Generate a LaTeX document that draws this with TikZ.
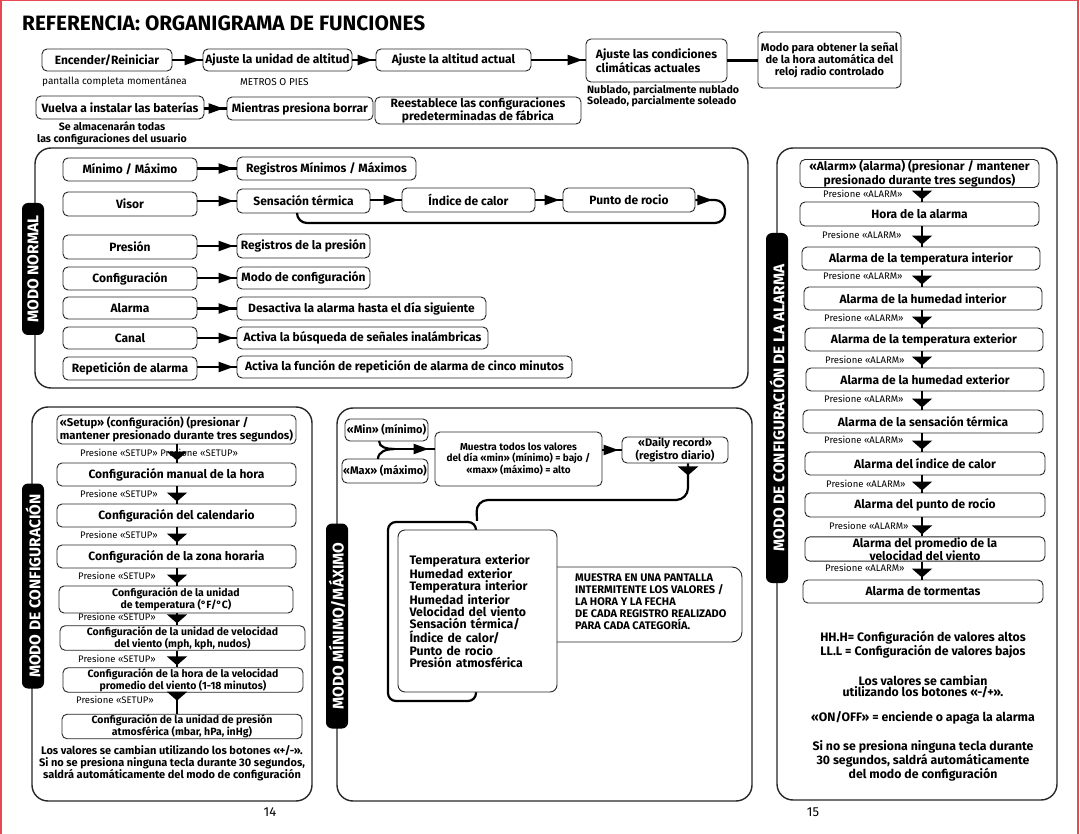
\documentclass[tikz,border=0pt]{standalone}
\usepackage{fontspec}
\setmainfont{Fira Sans}
\usetikzlibrary{arrows.meta,decorations.markings}
\newcommand\rb[7][]{\node[box,#1,minimum width={(#5-#3)*1pt},minimum height={(#6-#4)*1pt}] (#2) at ({(#3+#5)/2},{(#4+#6)/2}) {#7};}
\tikzset{
 box/.style={draw=black!85, line width=0.9pt, rounded corners=5pt, fill=white, inner sep=0.5pt, align=center, font=\bfseries\fontsize{12}{12}\selectfont},
 fnine/.style={font=\bfseries\fontsize{10.5}{10.8}\selectfont},
 fnh/.style={font=\bfseries\fontsize{11.3}{11.5}\selectfont},
 feight/.style={font=\bfseries\fontsize{10.6}{11.5}\selectfont},
 harr/.style={line width=2.2pt, postaction={decorate}, decoration={markings, mark=at position #1 with {\arrow{Triangle[length=15pt,width=10pt]}}}},
 harr/.default=-3pt,
 varr/.style={line width=2.2pt, postaction={decorate}, decoration={markings, mark=at position #1 with {\arrow{Triangle[length=9pt,width=20pt]}}}},
 varr/.default=-2pt,
 panel/.style={draw=black!85, line width=1.4pt, rounded corners=16pt},
 vlab/.style={fill=black, text=white, rounded corners=6pt, rotate=90, inner sep=0pt, minimum height=22pt, font=\bfseries\fontsize{15.5}{15.5}\selectfont},
 note/.style={font=\bfseries\fontsize{11}{11.5}\selectfont, align=center, inner sep=0pt},
 presl/.style={font=\fontsize{9.5}{10}\selectfont, anchor=west, inner sep=0pt},
 plain/.style={font=\fontsize{10}{10}\selectfont, anchor=west, inner sep=0pt},
}
\begin{document}
\begin{tikzpicture}[x=1pt,y=-1pt]
\useasboundingbox (0,0) rectangle (1080,834);
\draw[draw={rgb,255:red,232;green,72;blue,84}, line width=1.5pt] (0.75,834) -- (0.75,0.75) -- (1078,0.75) -- (1078,834);

% title
\node[anchor=west, font=\bfseries\fontsize{20.8}{20.8}\selectfont, inner sep=0pt] (title) at (22,23) {REFERENCIA: ORGANIGRAMA DE FUNCIONES};

% top rows
\rb{enc}{42}{49}{172}{71}{Encender/Reiniciar}
\rb{unid}{203}{49}{352}{71}{Ajuste la unidad de altitud}
\rb{alt}{376}{49}{531}{71}{Ajuste la altitud actual}
\rb[align=left]{clim}{586}{39}{727}{82}{Ajuste las condiciones\\climáticas actuales}
\rb[font=\bfseries\fontsize{11}{11.5}\selectfont]{radio}{758}{32}{901}{88}{Modo para obtener la señal\\de la hora automática del\\reloj radio controlado}
\draw[harr] (enc.east) -- (unid.west);
\draw[harr] (unid.east) -- (alt.west);
\draw[harr] (alt.east) -- (alt.east -| clim.west);
\draw[line width=2.2pt] (clim.east) -- (clim.east -| radio.west);
\node[plain] (pant) at (42,82) {pantalla completa momentánea};
\node[plain] (metr) at (240,82) {METROS O PIES};
\node[note, feight, anchor=west, align=left] (nubl) at (587,96) {Nublado, parcialmente nublado\\Soleado, parcialmente soleado};

\rb{vuel}{36}{96}{204}{119}{Vuelva a instalar las baterías}
\rb{mien}{227}{97}{373}{120}{Mientras presiona borrar}
\rb{rees}{375}{97}{581}{124}{Reestablece las configuraciones\\predeterminadas de fábrica}
\draw[harr] (vuel.east |- mien.west) -- (mien.west);
\node[note, feight] (almac) at (112,133.5) {Se almacenarán todas\\las configuraciones del usuario};

% ---------- MODO NORMAL ----------
\draw[panel] (35,148) rectangle (748,388);
\node[vlab, minimum width=132pt] (vnorm) at (33,269) {MODO NORMAL};
\rb{mm}{63}{158}{197}{181}{Mínimo / Máximo}
\rb{vis}{63}{192}{197}{216}{Visor}
\rb{pres}{63}{235}{197}{259}{Presión}
\rb{conf}{63}{267}{197}{290}{Configuración}
\rb{alar}{63}{297}{197}{319}{Alarma}
\rb{can}{63}{327}{197}{349}{Canal}
\rb{rep}{63}{357}{197}{380}{Repetición de alarma}

\rb{regmm}{237}{157}{416}{180}{Registros Mínimos / Máximos}
\rb{sens}{237}{189}{370}{213}{Sensación térmica}
\rb{ind}{402}{188}{535}{212}{Índice de calor}
\rb{pto}{563}{188}{695}{212}{Punto de rocio}
\rb{regp}{237}{234}{370}{258}{Registros de la presión}
\rb{modc}{237}{267}{370}{289}{Modo de configuración}
\rb{desa}{237}{297}{486}{320}{Desactiva la alarma hasta el día siguiente}
\rb{busq}{237}{327}{488}{349}{Activa la búsqueda de señales inalámbricas}
\rb{func}{237}{356}{572}{378}{Activa la función de repetición de alarma de cinco minutos}

\draw[harr] (mm.east |- regmm.west) -- (regmm.west);
\draw[harr] (vis.east |- sens.west) -- (sens.west);
\draw[harr] (sens.east |- ind.west) -- (ind.west);
\draw[harr] (ind.east) -- (pto.west);
\coordinate (lp) at (297,223);
\draw[harr=17pt, rounded corners=10pt] (pto.east) -- (725,200) -- (725,223) -- (lp) -- (lp |- sens.south);
\draw[harr] (pres.east |- regp.west) -- (regp.west);
\draw[harr] (conf.east |- modc.west) -- (modc.west);
\draw[harr] (alar.east |- desa.west) -- (desa.west);
\draw[harr] (can.east |- busq.west) -- (busq.west);
\draw[harr] (rep.east |- func.west) -- (func.west);

% ---------- MODO DE CONFIGURACION ----------
\draw[panel] (32,407) rectangle (312,801);
\node[vlab, minimum width=205pt] (vconf) at (33,586) {MODO DE CONFIGURACIÓN};
\coordinate (cx) at (177,0);
\rb[fnh, align=left]{setup}{57}{415}{296}{444}{«Setup» (configuración) (presionar /\\mantener presionado durante tres segundos)}
\rb{cman}{57}{463}{296}{486}{Configuración manual de la hora}
\rb{ccal}{57}{504}{296}{527}{Configuración del calendario}
\rb{czon}{57}{545}{296}{568}{Configuración de la zona horaria}
\rb[fnine]{ctem}{59}{586}{293}{613}{Configuración de la unidad\\de temperatura (°F/°C)}
\rb[fnine]{cvel}{60}{626}{305}{650}{Configuración de la unidad de velocidad\\del viento (mph, kph, nudos)}
\rb[fnine]{chor}{63}{668}{303}{692}{Configuración de la hora de la velocidad\\promedio del viento (1-18 minutos)}
\rb[fnine]{cpre}{62}{715}{302}{738}{Configuración de la unidad de presión\\atmosférica (mbar, hPa, inHg)}
\node[presl] (p0) at (80,453) {Presione «SETUP» Presione «SETUP»};
\node[presl] (p1) at (80,494) {Presione «SETUP»};
\node[presl] (p2) at (80,535) {Presione «SETUP»};
\node[presl] (p3) at (78,576) {Presione «SETUP»};
\node[presl] (p4) at (78,617) {Presione «SETUP»};
\node[presl] (p5) at (78,659) {Presione «SETUP»};
\node[presl] (p6) at (76,700) {Presione «SETUP»};
\draw[varr] (setup.south -| cx) -- (cman.north -| cx);
\draw[varr] (cman.south -| cx) -- (ccal.north -| cx);
\draw[varr] (ccal.south -| cx) -- (czon.north -| cx);
\draw[varr] (czon.south -| cx) -- (ctem.north -| cx);
\draw[varr] (ctem.south -| cx) -- (cvel.north -| cx);
\draw[varr] (cvel.south -| cx) -- (chor.north -| cx);
\draw[varr=8pt] (chor.south -| cx) -- (cpre.north -| cx);
\node[note] (cnote) at (172,763.5) {Los valores se cambian utilizando los botones «+/-».\\Si no se presiona ninguna tecla durante 30 segundos,\\saldrá automáticamente del modo de configuración};
\node[font=\fontsize{13}{13}\selectfont, inner sep=0pt] (pg14) at (270,812) {14};

% ---------- MODO MINIMO/MAXIMO ----------
\draw[panel] (337,408) rectangle (752,801);
\node[vlab, minimum width=205pt] (vmm) at (337,626) {MODO MÍNIMO/MÁXIMO};
\rb[font=\bfseries\fontsize{11}{11}\selectfont]{min}{345}{419}{428}{441}{«Min» (mínimo)}
\rb[font=\bfseries\fontsize{11}{11}\selectfont]{max}{342}{459}{428}{483}{«Max» (máximo)}
\rb[font=\bfseries\fontsize{10}{12}\selectfont]{most}{435}{432}{602}{486}{Muestra todos los valores\\del día «min» (mínimo) = bajo /\\«max» (máximo) = alto}
\rb[font=\bfseries\fontsize{11}{11}\selectfont]{daily}{622}{437}{728}{463}{«Daily record»\\(registro diario)}
\coordinate (mj) at (394,449);
\coordinate (m1) at (379,441);
\coordinate (m2) at (378,459);
\draw[line width=2.2pt] (m1) to[out=-90,in=180] (mj);
\draw[line width=2.2pt] (m2) to[out=90,in=180] (mj);
\draw[harr=-6pt] (mj) -- (mj -| most.west);
\draw[harr] (most.east |- daily.west) -- (daily.west);

\node[draw=black, line width=2.2pt, rounded corners=8pt, minimum width=88pt, minimum height=179pt, inner sep=0pt] (back) at (432,611.5) {};
\coordinate (dx) at (688,0);
\draw[varr=12pt, rounded corners=12pt] (daily.south -| dx) -- (688,500) -- (476,500) -- (back.north east);
\node[draw=black!85, line width=0.9pt, rounded corners=10pt, fill=white, minimum width=202pt, minimum height=75pt, inner sep=0pt] (side) at (641,604.5) {};
\rb[font=\bfseries\fontsize{12.3}{12.3}\selectfont, align=left, text width=136pt, rounded corners=7pt]{front}{398}{530}{557}{692}{Temperatura exterior\\Humedad exterior\\Temperatura interior\\Humedad interior\\Velocidad del viento\\Sensación térmica/\\Índice de calor/\\Punto de rocio\\Presión atmosférica}
\node[font=\bfseries\fontsize{11}{12}\selectfont, align=left, anchor=west, inner sep=0pt] (sidet) at (575,602) {MUESTRA EN UNA PANTALLA\\INTERMITENTE LOS VALORES /\\LA HORA Y LA FECHA\\DE CADA REGISTRO REALIZADO\\PARA CADA CATEGORÍA.};

% ---------- MODO DE CONFIGURACION DE LA ALARMA ----------
\draw[panel] (777,148) rectangle (1057,800);
\node[vlab, minimum width=350pt] (valm) at (777,408) {MODO DE CONFIGURACIÓN DE LA ALARMA};
\coordinate (ax) at (922,0);
\rb{a0}{800}{160}{1039}{187}{«Alarm» (alarma) (presionar / mantener\\presionado durante tres segundos)}
\rb{a1}{800}{202}{1039}{226}{Hora de la alarma}
\rb{a2}{802}{247}{1040}{270}{Alarma de la temperatura interior}
\rb{a3}{804}{287}{1042}{310}{Alarma de la humedad interior}
\rb{a4}{805}{328}{1043}{351}{Alarma de la temperatura exterior}
\rb{a5}{806}{368}{1044}{391}{Alarma de la humedad exterior}
\rb{a6}{803}{410}{1043}{433}{Alarma de la sensación térmica}
\rb{a7}{805}{452}{1045}{475}{Alarma del índice de calor}
\rb{a8}{805}{493}{1045}{517}{Alarma del punto de rocío}
\rb[font=\bfseries\fontsize{12}{11}\selectfont]{a9}{805}{537}{1045}{561}{Alarma del promedio de la\\velocidad del viento}
\rb{a10}{803}{580}{1043}{603}{Alarma de tormentas}
\node[presl] (q1) at (823,194) {Presione «ALARM»};
\node[presl] (q2) at (822,235) {Presione «ALARM»};
\node[presl] (q3) at (823,276) {Presione «ALARM»};
\node[presl] (q4) at (824,318) {Presione «ALARM»};
\node[presl] (q5) at (825,360) {Presione «ALARM»};
\node[presl] (q6) at (824,399) {Presione «ALARM»};
\node[presl] (q7) at (824,440) {Presione «ALARM»};
\node[presl] (q8) at (826,484) {Presione «ALARM»};
\node[presl] (q9) at (829,526) {Presione «ALARM»};
\node[presl] (q10) at (825,568) {Presione «ALARM»};
\foreach \i [evaluate=\i as \j using int(\i+1)] in {0,...,9}{
  \draw[varr] (a\i.south -| ax) -- (a\j.north -| ax);
}
\node[note, font=\bfseries\fontsize{12.3}{12.5}\selectfont] (hh) at (923,644.5) {HH.H= Configuración de valores altos\\LL.L = Configuración de valores bajos};
\node[note, font=\bfseries\fontsize{12.3}{11.5}\selectfont] (lv) at (923,686.5) {Los valores se cambian\\utilizando los botones «-/+».};
\node[note, font=\bfseries\fontsize{12.3}{11.5}\selectfont] (onoff) at (923,718) {«ON/OFF» = enciende o apaga la alarma};
\node[note, font=\bfseries\fontsize{12.3}{11.2}\selectfont] (sino) at (923,761) {Si no se presiona ninguna tecla durante\\30 segundos, saldrá automáticamente\\del modo de configuración};
\node[font=\fontsize{13}{13}\selectfont, inner sep=0pt] (pg15) at (813,812) {15};
\end{tikzpicture}
\end{document}
